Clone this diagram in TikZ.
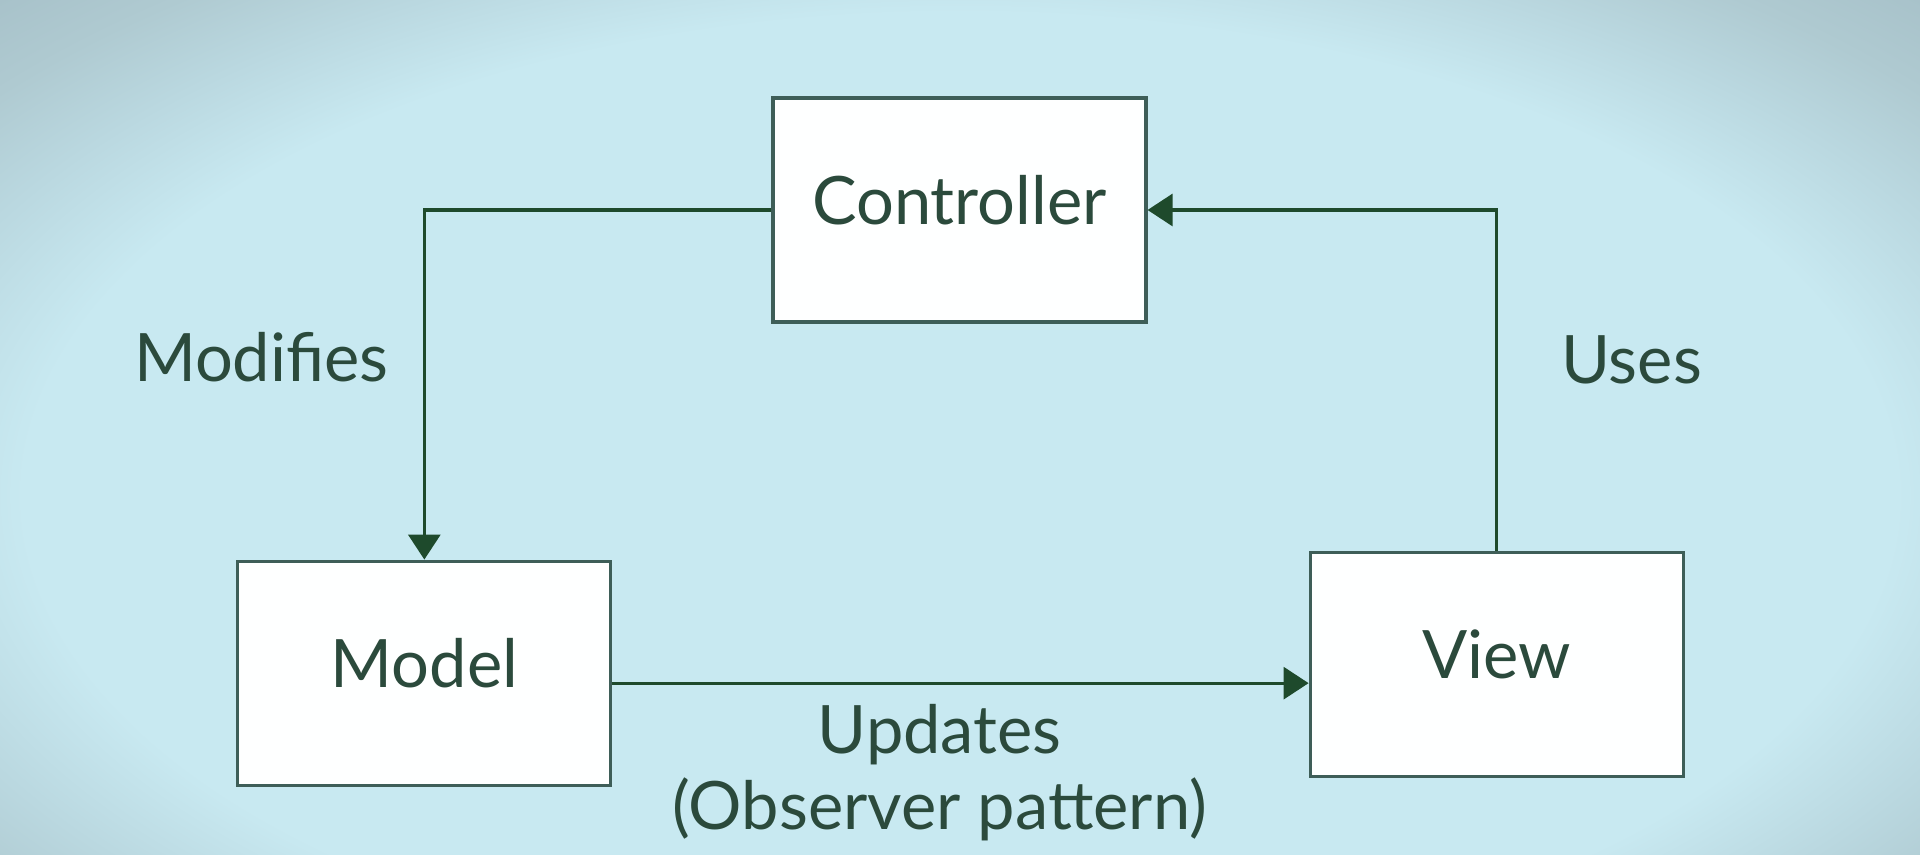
\documentclass[tikz,border=0pt]{standalone}
\usepackage{fontspec}
\setmainfont{Lato}
\usepackage{xcolor}
\usepackage{tikz}
\usetikzlibrary{arrows.meta,positioning,calc}

\definecolor{bgin}{HTML}{C8E9F1}
\definecolor{bgmid}{HTML}{BAD8E0}
\definecolor{bgout}{HTML}{AFCAD1}
\definecolor{bgend}{HTML}{A7C1C9}
\definecolor{boxline}{HTML}{3E5E58}
\definecolor{arrowcol}{HTML}{1E4A2C}
\definecolor{textcol}{HTML}{2B4A3C}

\pgfdeclareradialshading{bgshade}{\pgfpoint{0bp}{0bp}}{%
  color(0bp)=(bgin); color(34bp)=(bgin); color(40bp)=(bgmid);
  color(45bp)=(bgout); color(50bp)=(bgend)}

\begin{document}
\begin{tikzpicture}[
  font=\fontsize{19}{21.5}\selectfont,
  text=textcol,
  node distance=2.39cm and 1.63cm,
  mvcbox/.style={draw=boxline, line width=0.9pt, fill=white!98!bgin,
      minimum width=3.73cm, minimum height=2.24cm,
      text depth=2mm, inner sep=0pt},
  lbl/.style={inner sep=0pt, align=center},
  arrow/.style={-{Triangle[length=2.5mm, width=3.2mm]},
      draw=arrowcol, line width=0.9pt}
]
\useasboundingbox (0,0) rectangle (19.2,8.55);
\begin{scope}
  \clip (0,0) rectangle (19.2,8.55);
  \fill[bgend] (0,0) rectangle (19.2,8.55);
  \begin{scope}[transform canvas={shift={(9.6cm,3.6cm)}, xscale=7.8, yscale=4.02}]
    \node[inner sep=0pt] (bg) {\pgfuseshading{bgshade}};
  \end{scope}
\end{scope}
\node[mvcbox] (ctrl) at (9.595,6.45) {Controller};
\node[mvcbox, below left=2.36cm and 1.59cm of ctrl] (model) {Model};
\node[mvcbox, below right=2.27cm and 1.61cm of ctrl] (view) {View};
\draw[arrow] (ctrl.west) -| node[lbl, pos=0.71, left=3.4mm] {Modifies}
  (model.north);
\draw[arrow] (view.north) |- node[lbl, pos=0.28, right=6.3mm] {Uses}
  (ctrl.east);
\draw[arrow] ([yshift=-1mm]model.east) -- ([yshift=-1mm]model.east -| view.west)
  node[lbl, pos=0.47, below=2mm] (upd) {Updates\\(Observer pattern)};
\end{tikzpicture}
\end{document}
